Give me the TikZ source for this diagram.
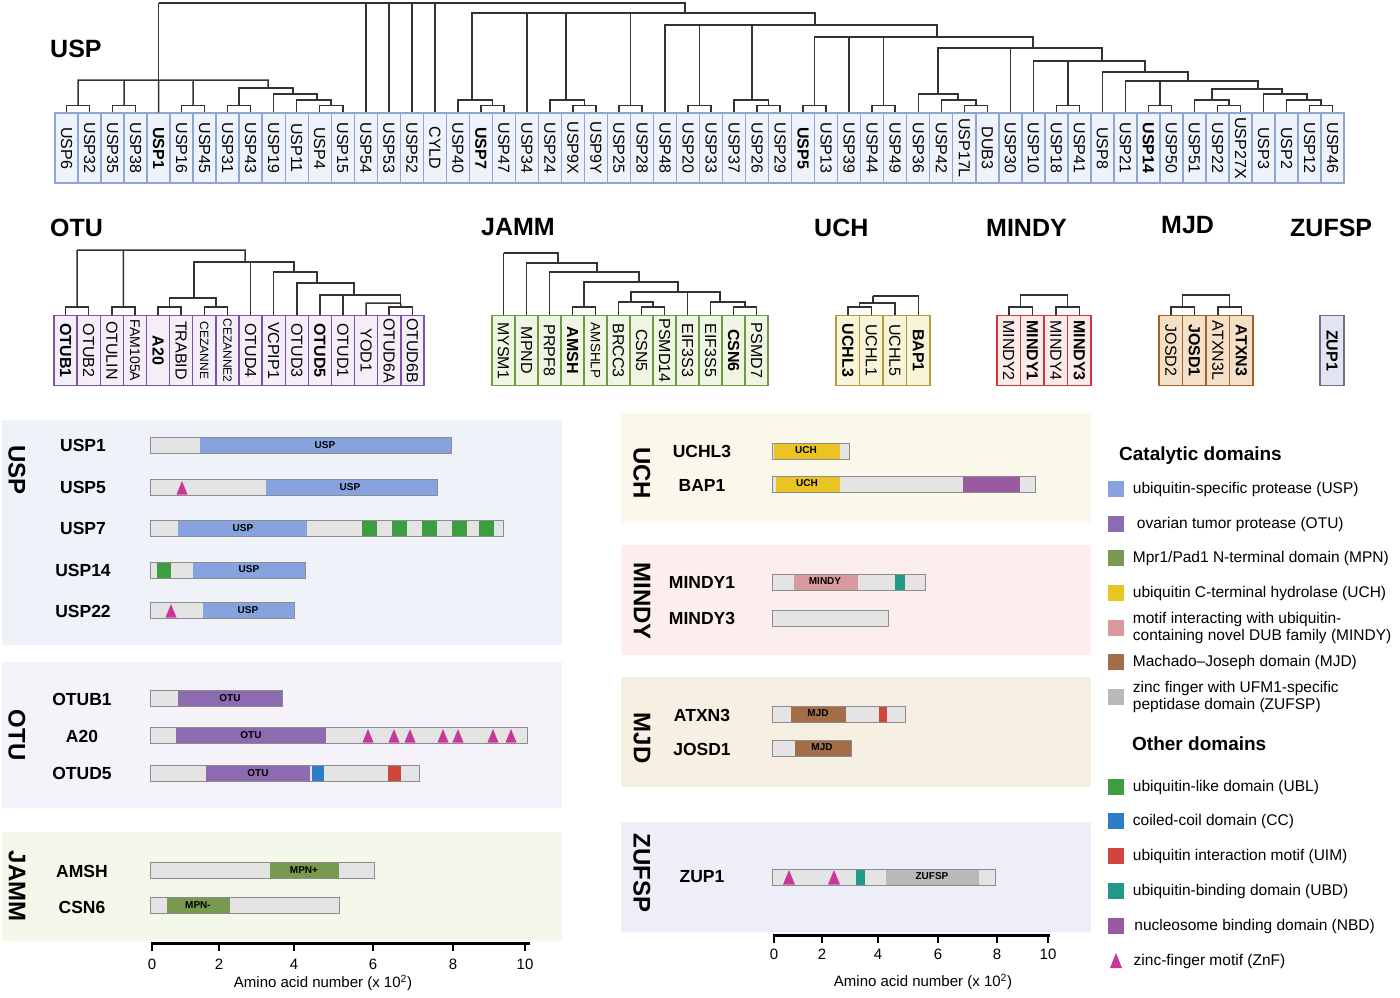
\documentclass[tikz,border=0pt]{standalone}
\usepackage{fontspec}
\setmainfont{Liberation Sans}
\usepackage{graphicx}
\usetikzlibrary{calc,positioning}

\definecolor{uspfill}{HTML}{EEF2FA}\definecolor{uspline}{HTML}{8EA4D2}
\definecolor{otufill}{HTML}{F3EEF8}\definecolor{otuline}{HTML}{7D52A6}
\definecolor{jamfill}{HTML}{EEF5E2}\definecolor{jamline}{HTML}{6E9B3F}
\definecolor{uchfill}{HTML}{F8F4DA}\definecolor{uchline}{HTML}{B59A3A}
\definecolor{minfill}{HTML}{FBEAEA}\definecolor{minline}{HTML}{C9393F}
\definecolor{mjdfill}{HTML}{F4E0C7}\definecolor{mjdline}{HTML}{A3622C}
\definecolor{zuffill}{HTML}{E2E4F1}\definecolor{zufline}{HTML}{6D7088}
\definecolor{pusp}{HTML}{EFF2F9}\definecolor{potu}{HTML}{F5F2FA}
\definecolor{pjam}{HTML}{F4F8EA}\definecolor{puch}{HTML}{FAF8EA}
\definecolor{pmin}{HTML}{FCEEEC}\definecolor{pmjd}{HTML}{F7EFE2}
\definecolor{pzuf}{HTML}{EDEEF7}
\definecolor{barg}{HTML}{E4E4E4}
\definecolor{dusp}{HTML}{86A3E0}\definecolor{dotu}{HTML}{8C6BB1}
\definecolor{dmpn}{HTML}{779A4E}\definecolor{duch}{HTML}{EAC422}
\definecolor{dmin}{HTML}{D99A9C}\definecolor{dmjd}{HTML}{A26D47}
\definecolor{dzuf}{HTML}{B9B9B9}\definecolor{dubl}{HTML}{3D9E41}
\definecolor{dcc}{HTML}{2E7DC8}\definecolor{duim}{HTML}{D0463D}
\definecolor{dubd}{HTML}{21998A}\definecolor{dnbd}{HTML}{9B5A9F}
\definecolor{dznf}{HTML}{C9379A}

\begin{document}
\begin{tikzpicture}[x=1pt,y=-1pt,
    tree/.style={draw=black!80,line width=1.5pt},
    leaf/.style={draw,line width=1.4pt,inner sep=0pt,minimum height=70pt,font=\fontsize{16}{16}\selectfont},
    fam/.style={font=\fontsize{25}{25}\selectfont\bfseries,anchor=west,inner sep=0pt},
    ptitle/.style={rotate=-90,font=\fontsize{24}{24}\selectfont\bfseries,inner sep=0pt},
    prot/.style={font=\fontsize{17.5}{18}\selectfont\bfseries,inner sep=0pt},
    dlab/.style={font=\fontsize{10}{10}\selectfont\bfseries,inner sep=0pt},
    bar/.style={draw=black!45,line width=1pt,fill=barg},
    tick/.style={font=\fontsize{15}{15}\selectfont,inner sep=0pt},
    leg/.style={font=\fontsize{15.5}{17}\selectfont,inner sep=0pt,anchor=west,align=left},
    legsq/.style={minimum size=16pt,inner sep=0pt},
    znf/.style={fill=dznf}]
\fill[white] (0,0) rectangle (1400,997);
\useasboundingbox (0,0) rectangle (1400,997);

\node[fam] (tUSP) at (50,49) {USP};
\node[fam] (tOTU) at (50,228) {OTU};
\node[fam] (tJAMM) at (481,227) {JAMM};
\node[fam] (tUCH) at (814,228) {UCH};
\node[fam] (tMINDY) at (986,228) {MINDY};
\node[fam] (tMJD) at (1161,225) {MJD};
\node[fam] (tZUFSP) at (1290,228) {ZUFSP};

\foreach \lab [count=\i] in {USP6,USP32,USP35,USP38,{\bfseries USP1},USP16,USP45,USP31,USP43,USP19,USP11,USP4,USP15,USP54,USP53,USP52,CYLD,USP40,{\bfseries USP7},USP47,USP34,USP24,USP9X,USP9Y,USP25,USP28,USP48,USP20,USP33,USP37,USP26,USP29,{\bfseries USP5},USP13,USP39,USP44,USP49,USP36,USP42,USP17L,DUB3,USP30,USP10,USP18,USP41,USP8,USP21,{\bfseries USP14},USP50,USP51,USP22,USP27X,USP3,USP2,USP12,USP46}
  \node[leaf,draw=uspline,fill=uspfill,minimum width=23.02pt] (u\i) at ({55+23.02*(\i-0.5)},148) {\rotatebox{-90}{\lab}};
\foreach \a/\b in {1/2,3/4,6/7,8/9,12/13,19/20,23/24,25/26,28/29,31/32,33/34,36/37,40/41,44/45,48/49,51/52,55/56}{
  \coordinate (up\a) at ($(u\a.north)!.5!(u\b.north)+(0,-7)$);
  \draw[tree] (u\a.north) |- (up\a) -| (u\b.north);
}
\coordinate (uR) at (158.6,3);
\coordinate (uA) at (158.6,80);
\coordinate (uB) at (268,88);
\coordinate (uC) at (293,94);
\coordinate (uD) at (317,100);
\coordinate (uE) at (685,13);
\coordinate (uE1) at (472,100);
\coordinate (uE2) at (566,100);
\coordinate (uF) at (815,25);
\coordinate (uF1) at (752,100);
\coordinate (uG) at (937,37);
\coordinate (uH) at (1033,48);
\coordinate (uI) at (938,94);
\coordinate (uK) at (958,100);
\coordinate (uJ) at (1102,61);
\coordinate (uL) at (1145,72);
\coordinate (uM) at (1188,81);
\coordinate (uN) at (1258,89);
\coordinate (uO) at (1212,100);
\coordinate (uP) at (1282,94);
\coordinate (uQ) at (1307,100);
\draw[tree] (uR) -- (uA) (uR) -| (u14.north) (uR) -| (u15.north) (uR) -| (u16.north) (uR) -| (u17.north) (uR) -| (uE);
\draw[tree] (uA) -| (up1) (uA) -| (up3) (uA) -- (u5.north) (uA) -| (up6) (uA) -| (uB);
\draw[tree] (uB) -| (up8) (uB) -| (uC);
\draw[tree] (uC) -| (u10.north) (uC) -| (uD);
\draw[tree] (uD) -| (u11.north) (uD) -| (up12);
\draw[tree] (uE) -| (uE1) (uE) -| (u21.north) (uE) -| (uE2) (uE) -| (up25) (uE) -| (uF);
\draw[tree] (uE1) -| (u18.north) (uE1) -| (up19);
\draw[tree] (uE2) -| (u22.north) (uE2) -| (up23);
\draw[tree] (uF) -| (u27.north) (uF) -| (up28) (uF) -| (uF1) (uF) -| (uG);
\draw[tree] (uF1) -| (u30.north) (uF1) -| (up31);
\draw[tree] (uG) -| (up33) (uG) -| (u35.north) (uG) -| (up36) (uG) -| (uH);
\draw[tree] (uH) -| (uI) (uH) -| (u42.north) (uH) -| (uJ);
\draw[tree] (uI) -| (u38.north) (uI) -| (uK);
\draw[tree] (uK) -| (u39.north) (uK) -| (up40);
\draw[tree] (uJ) -| (u43.north) (uJ) -| (up44) (uJ) -| (uL);
\draw[tree] (uL) -| (u46.north) (uL) -| (uM);
\draw[tree] (uM) -| (u47.north) (uM) -| (up48) (uM) -| (uN);
\draw[tree] (uN) -| (uO) (uN) -| (uP);
\draw[tree] (uO) -| (u50.north) (uO) -| (up51);
\draw[tree] (uP) -| (u53.north) (uP) -| (uQ);
\draw[tree] (uQ) -| (u54.north) (uQ) -| (up55);

\foreach \lab [count=\i] in {{\bfseries OTUB1},OTUB2,OTULIN,{\fontsize{14}{14}\selectfont FAM105A},{\bfseries A20},TRABID,{\fontsize{12}{12}\selectfont CEZANNE},{\fontsize{12}{12}\selectfont CEZANNE2},OTUD4,VCPIP1,OTUD3,{\bfseries OTUD5},OTUD1,YOD1,OTUD6A,OTUD6B}
  \node[leaf,draw=otuline,fill=otufill,minimum width=23.12pt] (o\i) at ({54+23.12*(\i-0.5)},350.5) {\rotatebox{-90}{\lab}};
\foreach \a/\b in {1/2,3/4,5/6,7/8,15/16}{
  \coordinate (op\a) at ($(o\a.north)!.5!(o\b.north)+(0,-8)$);
  \draw[tree] (o\a.north) |- (op\a) -| (o\b.north);
}
\coordinate (oR) at (77.2,250);
\coordinate (oB) at (245,262);
\coordinate (oC) at (194,298);
\coordinate (oD) at (294,272);
\coordinate (oE) at (317,283);
\coordinate (oF) at (354,295);
\coordinate (oG) at (400.65,303);
\draw[tree] (oR) -- (op1) (oR) -| (op3) (oR) -| (oB);
\draw[tree] (oB) -| (oC) (oB) -| (o9.north) (oB) -| (oD);
\draw[tree] (oC) -| (op5) (oC) -| (op7);
\draw[tree] (oD) -| (o10.north) (oD) -| (oE);
\draw[tree] (oE) -| (o11.north) (oE) -| (oF);
\draw[tree] (oF) -| (o12.north) (oF) -| (o13.north) (oF) -| (oG);
\draw[tree] (oG) -| (o14.north) (oG) -- (op15);

\foreach \lab [count=\i] in {MYSM1,MPND,PRPF8,{\bfseries AMSH},{\fontsize{13.5}{14}\selectfont AMSHLP},BRCC3,CSN5,PSMD14,EIF3S3,EIF3S5,{\bfseries CSN6},PSMD7}
  \node[leaf,draw=jamline,fill=jamfill,minimum width=23pt] (j\i) at ({492+23*(\i-0.5)},350.5) {\rotatebox{-90}{\lab}};
\foreach \a/\b in {4/5,7/8,11/12}{
  \coordinate (jp\a) at ($(j\a.north)!.5!(j\b.north)+(0,-8)$);
  \draw[tree] (j\a.north) |- (jp\a) -| (j\b.north);
}
\coordinate (jR) at (503.5,253);
\coordinate (jB) at (558,263);
\coordinate (jC) at (597,272);
\coordinate (jD) at (639,282);
\coordinate (jE) at (678,292);
\coordinate (jF) at (631,302);
\coordinate (jG) at (720,302);
\draw[tree] (jR) -- (j1.north) (jR) -| (jB);
\draw[tree] (jB) -| (j2.north) (jB) -| (jC);
\draw[tree] (jC) -| (j3.north) (jC) -| (jD);
\draw[tree] (jD) -| (jp4) (jD) -| (jE);
\draw[tree] (jE) -| (jF) (jE) -| (j9.north) (jE) -| (jG);
\draw[tree] (jF) -| (j6.north) (jF) -| (jp7);
\draw[tree] (jG) -| (j10.north) (jG) -| (jp11);

\foreach \lab [count=\i] in {{\bfseries UCHL3},UCHL1,UCHL5,{\bfseries BAP1}}
  \node[leaf,draw=uchline,fill=uchfill,minimum width=23.5pt] (c\i) at ({836+23.5*(\i-0.5)},350.5) {\rotatebox{-90}{\lab}};
\foreach \lab [count=\i] in {MINDY2,{\bfseries MINDY1},MINDY4,{\bfseries MINDY3}}
  \node[leaf,draw=minline,fill=minfill,minimum width=23.5pt] (m\i) at ({997+23.5*(\i-0.5)},350.5) {\rotatebox{-90}{\lab}};
\foreach \lab [count=\i] in {JOSD2,{\bfseries JOSD1},ATXN3L,{\bfseries ATXN3}}
  \node[leaf,draw=mjdline,fill=mjdfill,minimum width=23.5pt] (d\i) at ({1159+23.5*(\i-0.5)},350.5) {\rotatebox{-90}{\lab}};
\node[leaf,draw=zufline,fill=zuffill,minimum width=24pt] (z1) at (1332,350.5) {\rotatebox{-90}{\bfseries ZUP1}};
\foreach \f in {c,m,d}{
  \coordinate (\f p1) at ($(\f1.north)!.5!(\f2.north)+(0,-8)$);
  \draw[tree] (\f1.north) |- (\f p1) -| (\f2.north);
}
\foreach \f in {m,d}{
  \coordinate (\f p3) at ($(\f3.north)!.5!(\f4.north)+(0,-8)$);
  \draw[tree] (\f3.north) |- (\f p3) -| (\f4.north);
  \coordinate (\f R) at ($(\f p1)!.5!(\f p3)+(0,-12)$);
  \draw[tree] (\f R) -| (\f p1) (\f R) -| (\f p3);
}
\coordinate (cB) at (873,303);
\coordinate (cR) at (873,296);
\draw[tree] (cB) -| (cp1) (cB) -| (c3.north);
\draw[tree] (cR) -- (cB) (cR) -| (c4.north);

\fill[pusp] (2,420) rectangle (562,645);
\fill[potu] (2,662) rectangle (562,808);
\fill[pjam] (2,832) rectangle (562,941);
\fill[puch] (621,413) rectangle (1091,522);
\fill[pmin] (621,545) rectangle (1091,655);
\fill[pmjd] (621,677) rectangle (1091,787);
\fill[pzuf] (621,822) rectangle (1091,932);
\node[ptitle] (gUSP) at (17,470) {USP};
\node[ptitle] (gOTU) at (17,735) {OTU};
\node[ptitle] (gJAMM) at (17,886) {JAMM};
\node[ptitle] (gUCH) at (642,473) {UCH};
\node[ptitle] (gMINDY) at (642,601) {MINDY};
\node[ptitle] (gMJD) at (642,738) {MJD};
\node[ptitle] (gZUFSP) at (642,873) {ZUFSP};

\node[prot] (nUSP1) at (83,445) {USP1};
\draw[bar] (150,437) rectangle (451,453);
\fill[dusp] (200,437.5) rectangle (450.5,452.5);
\node[dlab] (aUSP1) at (325,445) {USP};
\node[prot] (nUSP5) at (83,487) {USP5};
\draw[bar] (150,479) rectangle (437,495);
\fill[dusp] (266,479.5) rectangle (436.5,494.5);
\fill[znf] (176.5,494.5) -- (187.5,494.5) -- (182,481) -- cycle;
\node[dlab] (aUSP5) at (350,487) {USP};
\node[prot] (nUSP7) at (83,528) {USP7};
\draw[bar] (150,520) rectangle (503,536);
\fill[dusp] (178,520.5) rectangle (307,535.5);
\foreach \x in {362,392,422,452,479} \fill[dubl] (\x,520.5) rectangle (\x+15,535.5);
\node[dlab] (aUSP7) at (243,528) {USP};
\node[prot] (nUSP14) at (83,570) {USP14};
\draw[bar] (150,562) rectangle (305,578);
\fill[dubl] (157,562.5) rectangle (171,577.5);
\fill[dusp] (193,562.5) rectangle (304.5,577.5);
\node[dlab] (aUSP14) at (249,569) {USP};
\node[prot] (nUSP22) at (83,611) {USP22};
\draw[bar] (150,602) rectangle (294,618);
\fill[dusp] (203,602.5) rectangle (293.5,617.5);
\fill[znf] (165.5,617.5) -- (176.5,617.5) -- (171,604) -- cycle;
\node[dlab] (aUSP22) at (248,610) {USP};

\node[prot] (nOTUB1) at (82,699) {OTUB1};
\draw[bar] (150,690) rectangle (282,706);
\fill[dotu] (178,690.5) rectangle (281.5,705.5);
\node[dlab] (aOTUB1) at (230,698) {OTU};
\node[prot] (nA20) at (82,736) {A20};
\draw[bar] (150,727) rectangle (527,743);
\fill[dotu] (176,727.5) rectangle (326,742.5);
\foreach \x in {368,394,410,443,458,493,511} \fill[znf] (\x-5.5,742.5) -- (\x+5.5,742.5) -- (\x,729) -- cycle;
\node[dlab] (aA20) at (251,735) {OTU};
\node[prot] (nOTUD5) at (82,773) {OTUD5};
\draw[bar] (150,765) rectangle (419,781);
\fill[dotu] (206,765.5) rectangle (310,780.5);
\fill[dcc] (312,765.5) rectangle (324,780.5);
\fill[duim] (388,765.5) rectangle (401,780.5);
\node[dlab] (aOTUD5) at (258,773) {OTU};

\node[prot] (nAMSH) at (82,871) {AMSH};
\draw[bar] (150,862) rectangle (374,878);
\fill[dmpn] (270,862.5) rectangle (339,877.5);
\node[dlab] (aAMSH) at (304,870) {MPN+};
\node[prot] (nCSN6) at (82,907) {CSN6};
\draw[bar] (150,897) rectangle (339,913);
\fill[dmpn] (167,897.5) rectangle (230,912.5);
\node[dlab] (aCSN6) at (198,905) {MPN-};

\node[prot] (nUCHL3) at (702,451) {UCHL3};
\draw[bar] (772,443) rectangle (849,459);
\fill[duch] (774,443.5) rectangle (840,458.5);
\node[dlab] (aUCHL3) at (806,450) {UCH};
\node[prot] (nBAP1) at (702,485) {BAP1};
\draw[bar] (772,476) rectangle (1035,492);
\fill[duch] (776,476.5) rectangle (840,491.5);
\fill[dnbd] (963,476.5) rectangle (1020,491.5);
\node[dlab] (aBAP1) at (807,483) {UCH};
\node[prot] (nMINDY1) at (702,582) {MINDY1};
\draw[bar] (772,574) rectangle (925,590);
\fill[dmin] (794,574.5) rectangle (858,589.5);
\fill[dubd] (895,574.5) rectangle (905,589.5);
\node[dlab] (aMINDY1) at (825,581) {MINDY};
\node[prot] (nMINDY3) at (702,618) {MINDY3};
\draw[bar] (772,610) rectangle (888,626);
\node[prot] (nATXN3) at (702,715) {ATXN3};
\draw[bar] (772,706) rectangle (905,722);
\fill[dmjd] (791,706.5) rectangle (846,721.5);
\fill[duim] (879,706.5) rectangle (887,721.5);
\node[dlab] (aATXN3) at (818,713) {MJD};
\node[prot] (nJOSD1) at (702,749) {JOSD1};
\draw[bar] (772,740) rectangle (851,756);
\fill[dmjd] (795,740.5) rectangle (850.5,755.5);
\node[dlab] (aJOSD1) at (822,747) {MJD};
\node[prot] (nZUP1) at (702,877) {ZUP1};
\draw[bar] (772,869) rectangle (995,885);
\foreach \x in {789,834} \fill[znf] (\x-6,884.5) -- (\x+6,884.5) -- (\x,870) -- cycle;
\fill[dubd] (856,869.5) rectangle (865,884.5);
\fill[dzuf] (886,869.5) rectangle (979,884.5);
\node[dlab] (aZUP1) at (932,876) {ZUFSP};

\draw[line width=3pt] (151,943) -- (530,943);
\foreach \x/\v in {152/0,219/2,294/4,373/6,453/8,525/10}{
  \draw[line width=1.2pt] (\x,943) -- (\x,951);
  \node[tick] (lx\v) at (\x,964) {\v};
}
\node[tick] (lax) at (323,983) {Amino acid number (x 10\textsuperscript{2})};
\draw[line width=3pt] (773,935) -- (1050,935);
\foreach \x/\v in {774/0,822/2,878/4,938/6,997/8,1048/10}{
  \draw[line width=1.2pt] (\x,935) -- (\x,943);
  \node[tick] (rx\v) at (\x,954) {\v};
}
\node[tick] (rax) at (923,982) {Amino acid number (x 10\textsuperscript{2})};

\node[font=\fontsize{19}{20}\selectfont\bfseries,anchor=west,inner sep=0pt] (lcat) at (1119,456) {Catalytic domains};
\node[legsq,fill=dusp] (l1) at (1116,489) {};
\node[leg,right=8.5pt of l1] (t1) {ubiquitin-specific protease (USP)};
\node[legsq,fill=dotu] (l2) at (1116,524) {};
\node[leg,right=12.5pt of l2] (t2) {ovarian tumor protease (OTU)};
\node[legsq,fill=dmpn] (l3) at (1116,558) {};
\node[leg,right=8.5pt of l3] (t3) {Mpr1/Pad1 N-terminal domain (MPN)};
\node[legsq,fill=duch] (l4) at (1116,593) {};
\node[leg,right=8.5pt of l4] (t4) {ubiquitin C-terminal hydrolase (UCH)};
\node[legsq,fill=dmin] (l5) at (1116,628) {};
\node[leg,right=8.5pt of l5] (t5) {motif interacting with ubiquitin-\\containing novel DUB family (MINDY)};
\node[legsq,fill=dmjd] (l6) at (1116,662) {};
\node[leg,right=8.5pt of l6] (t6) {Machado–Joseph domain (MJD)};
\node[legsq,fill=dzuf] (l7) at (1116,697) {};
\node[leg,right=8.5pt of l7] (t7) {zinc finger with UFM1-specific\\peptidase domain (ZUFSP)};
\node[font=\fontsize{19}{20}\selectfont\bfseries,anchor=west,inner sep=0pt] (loth) at (1132,744) {Other domains};
\node[legsq,fill=dubl] (l8) at (1116,787) {};
\node[leg,right=8.5pt of l8] (t8) {ubiquitin-like domain (UBL)};
\node[legsq,fill=dcc] (l9) at (1116,821) {};
\node[leg,right=8.5pt of l9] (t9) {coiled-coil domain (CC)};
\node[legsq,fill=duim] (l10) at (1116,856) {};
\node[leg,right=8.5pt of l10] (t10) {ubiquitin interaction motif (UIM)};
\node[legsq,fill=dubd] (l11) at (1116,891) {};
\node[leg,right=8.5pt of l11] (t11) {ubiquitin-binding domain (UBD)};
\node[legsq,fill=dnbd] (l12) at (1116,926) {};
\node[leg,right=10pt of l12] (t12) {nucleosome binding domain (NBD)};
\coordinate (l13) at (1116,961);
\fill[znf] (1110,968) -- (1122,968) -- (1116,953) -- cycle;
\node[leg,right=17.5pt of l13] (t13) {zinc-finger motif (ZnF)};
\end{tikzpicture}
\end{document}
